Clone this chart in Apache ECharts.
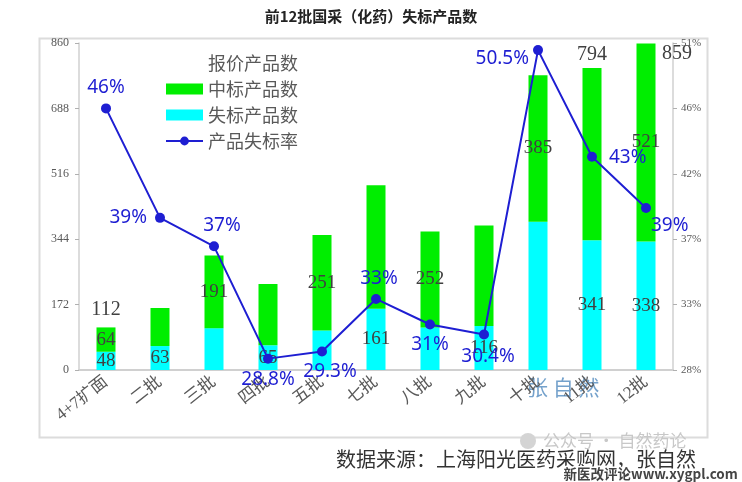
<!DOCTYPE html>
<html>
<head>
<meta charset="utf-8">
<script src="https://cdn.jsdelivr.net/npm/echarts@6/dist/echarts.min.js"></script>
<style>
  html, body { margin: 0; padding: 0; background: #fff; }
  #main { width: 742px; height: 482px; }
</style>
</head>
<body>
<div id="main"></div>
<script>
// 前12批国采（化药）
const batches = ['4+7扩面', '二批', '三批', '四批', '五批', '七批', '八批', '九批', '十批', '11批', '12批'];
const wonCount = [64, 100, 191, 161, 251, 325, 252, 264, 385, 453, 521];   // 中标产品数
const lostCount = [48, 63, 110, 65, 104, 161, 112, 116, 390, 341, 338];    // 失标产品数
const lostRate = [46.4, 38.7, 36.7, 28.8, 29.3, 33.0, 31.2, 30.5, 50.5, 43.0, 39.4]; // 产品失标率 %
const rateText = ['46%', '39%', '37%', '28.8%', '29.3%', '33%', '31%', '30.4%', '50.5%', '43%', '39%'];
// which bar labels the original shows
const wonShown = [true, false, true, false, true, false, true, false, true, false, true];
const lostShown = [true, true, false, true, false, true, false, true, false, true, true];
const totalShown = [true, false, false, false, false, false, false, false, false, true, true];

const totalCount = wonCount.map((v, i) => v + lostCount[i]);

// label placement for the rate line (style, not data)
const ratePos = ['top', 'left', 'top', 'bottom', 'bottom', 'top', 'bottom', 'bottom', 'left', 'right', 'right'];
const rateOff = [[0, 0], [-2, 0], [8, 0], [0, 0], [8, 0], [3, 0], [0, 0], [4, 2], [2, 8], [6, 1], [-6, 18]];

const chart = echarts.init(document.getElementById('main'));

const serif = "'Liberation Serif', 'Noto Sans CJK SC', serif";
const blue = '#1e1ed2';

chart.setOption({
  animation: false,
  title: {
    text: '前12批国采（化药）失标产品数',
    left: 'center', top: 4,
    textStyle: { fontSize: 15, fontWeight: 'bold', color: '#222', fontFamily: "'Noto Sans CJK SC'" }
  },
  legend: {
    orient: 'vertical', left: 160, top: 49,
    itemWidth: 37, itemHeight: 11, itemGap: 8,
    textStyle: { fontSize: 18, color: '#595959', fontFamily: "'Noto Sans CJK SC'" },
    data: [
      { name: '报价产品数', icon: 'none' },
      { name: '中标产品数', icon: 'rect' },
      { name: '失标产品数', icon: 'rect' },
      '产品失标率'
    ]
  },
  grid: { left: 79, right: 69, top: 43, bottom: 112 },
  xAxis: {
    type: 'category',
    data: batches,
    axisLine: { lineStyle: { color: '#d0d0d0', width: 2 } },
    axisTick: { show: false },
    axisLabel: { rotate: 38, fontSize: 17, color: '#595959', fontFamily: serif, margin: 10 }
  },
  yAxis: [{
    type: 'value', min: 0, max: 860, interval: 172,
    axisLine: { show: true, lineStyle: { color: '#d0d0d0', width: 1.5 } },
    axisTick: { show: true, length: 4, lineStyle: { color: '#b0b0b0' } },
    splitLine: { show: false },
    axisLabel: { fontSize: 12, color: '#595959', fontFamily: serif, margin: 10 }
  }, {
    type: 'value', min: 28, max: 51, interval: 4.6,
    axisLine: { show: true, lineStyle: { color: '#d0d0d0', width: 1.5 } },
    axisTick: { show: true, length: 4, lineStyle: { color: '#b0b0b0' } },
    splitLine: { show: false },
    axisLabel: {
      fontSize: 11, color: '#595959', fontFamily: serif, margin: 8,
      formatter: v => Math.round(v) + '%'
    }
  }],
  series: [{
    name: '失标产品数', type: 'bar', stack: 'n', barWidth: 19,
    itemStyle: { color: '#00ffff' },
    data: lostCount,
    label: {
      show: true, position: 'inside', fontSize: 19, color: '#404040', fontFamily: serif,
      formatter: p => lostShown[p.dataIndex] ? p.value : ''
    }
  }, {
    name: '中标产品数', type: 'bar', stack: 'n', barWidth: 19,
    itemStyle: { color: '#00ee00' },
    data: wonCount,
    label: {
      show: true, position: 'inside', fontSize: 19, color: '#404040', fontFamily: serif,
      formatter: p => wonShown[p.dataIndex] ? p.value : ''
    }
  }, {
    name: '报价产品数', type: 'line',
    data: totalCount.map((v, i) => ({
      value: v,
      label: i === 10 ? { position: 'right', offset: [8, 10] }
           : i === 9 ? { offset: [0, 5] } : {}
    })),
    symbol: 'circle', symbolSize: 0,
    lineStyle: { width: 0, opacity: 0 },
    itemStyle: { color: '#595959' },
    label: {
      show: true, position: 'top', distance: 8, fontSize: 20, color: '#404040', fontFamily: serif,
      formatter: p => totalShown[p.dataIndex] ? p.value : ''
    },
    z: 5
  }, {
    name: '产品失标率', type: 'line', yAxisIndex: 1,
    data: lostRate.map((v, i) => ({
      value: v,
      label: { position: ratePos[i], offset: rateOff[i] }
    })),
    symbol: 'circle', symbolSize: 10,
    lineStyle: { color: blue, width: 2 },
    itemStyle: { color: blue },
    label: {
      show: true, fontSize: 19, color: blue, distance: 6,
      fontFamily: "'Noto Sans', 'DejaVu Sans', sans-serif",
      formatter: p => rateText[p.dataIndex]
    },
    z: 10
  }],
  graphic: [{
    type: 'rect', left: 37, top: 36, z: -1,
    shape: { width: 668, height: 399 },
    style: { fill: 'none', stroke: '#dcdcdc', lineWidth: 2 }
  }, {
    type: 'text', left: 527, top: 377,
    style: { text: '张 自 然', fontSize: 21, fill: 'rgba(70,130,185,0.75)', fontFamily: "'Noto Sans CJK SC'" }
  }, {
    type: 'circle', left: 520, top: 433, shape: { r: 8 },
    style: { fill: '#d4d4d4' }
  }, {
    type: 'text', left: 543, top: 432,
    style: { text: '公众号 · 自然药论', fontSize: 17, fill: '#c8c8c8', fontFamily: "'Noto Sans CJK SC'" }
  }, {
    type: 'text', left: 336, top: 449,
    style: { text: '数据来源：上海阳光医药采购网，张自然', fontSize: 20, fill: '#333', fontFamily: "'Noto Sans CJK SC'" }
  }, {
    type: 'text', left: 562, top: 466,
    style: {
      text: '新医改评论www.xygpl.com', fontSize: 13.5, fill: '#444', fontWeight: 'bold',
      stroke: '#fff', lineWidth: 3, fontFamily: "'Noto Sans CJK SC'"
    }
  }]
});
</script>
</body>
</html>
